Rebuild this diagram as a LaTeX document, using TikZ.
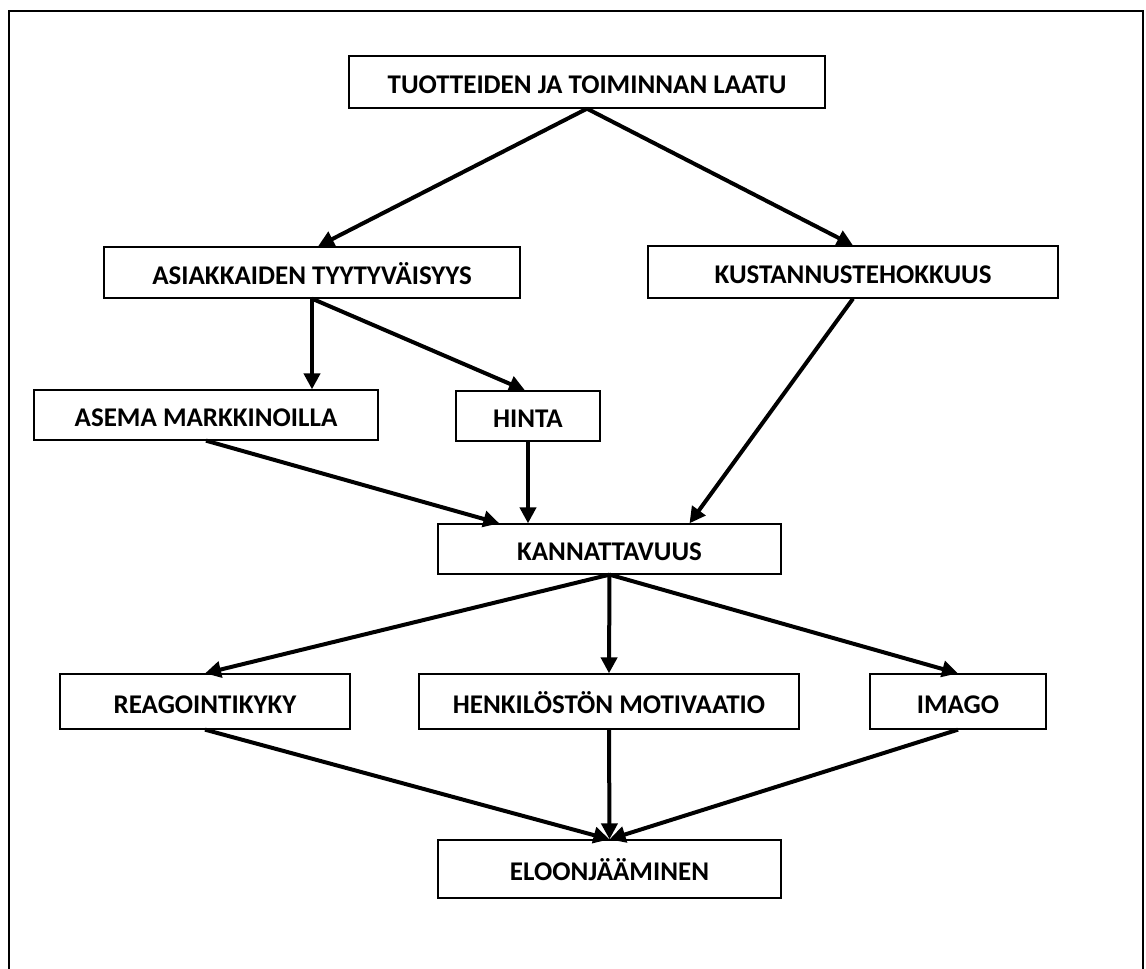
\documentclass[tikz,border=0pt]{standalone}
\usepackage{fontspec}
\setmainfont{Carlito}
\usetikzlibrary{arrows.meta}
\begin{document}
\begin{tikzpicture}[x=1pt,y=-1pt,
  box/.style={draw, line width=1.3pt, minimum height=#1, inner sep=0pt,
    text height=23.5pt, text depth=0pt,
    font=\fontsize{27}{31}\selectfont\bfseries},
  box/.default=51pt,
  link/.style={line width=4pt, -{Triangle[length=16pt,width=16pt]}}]
\useasboundingbox (0,0) rectangle (1146,969);
% outer frame (open at the bottom of the page)
\draw[line width=1.8pt] (9,969) -- (9,11) -- (1143,11) -- (1143,969);

\node[box=52pt, minimum width=476pt] (laatu) at (587,82) {TUOTTEIDEN JA TOIMINNAN LAATU};
\node[box, minimum width=416pt] (asiak) at (312,272.5) {ASIAKKAIDEN TYYTYVÄISYYS};
\node[box=52pt, minimum width=410pt] (kust) at (853,272) {KUSTANNUSTEHOKKUUS};
\node[box=50pt, minimum width=344pt] (asema) at (206,415) {ASEMA MARKKINOILLA};
\node[box=50pt, minimum width=144pt] (hinta) at (528,416) {HINTA};
\node[box=50pt, minimum width=343pt] (kann) at (609.5,549) {KANNATTAVUUS};
\node[box=55pt, minimum width=290pt] (reag) at (205,701.5) {REAGOINTIKYKY};
\node[box=55pt, minimum width=380pt] (henk) at (609,701.5) {HENKILÖSTÖN MOTIVAATIO};
\node[box=55pt, minimum width=176pt] (imago) at (958,701.5) {IMAGO};
\node[box=58pt, minimum width=343pt] (eloon) at (609.5,869) {ELOONJÄÄMINEN};

\draw[link] (laatu.south) -- ([xshift=6pt]asiak.north);
\draw[link] (laatu.south) -- (kust.north);
\draw[link] (asiak.south) -- (asiak.south |- asema.north);
\draw[link] (asiak.south) -- ([xshift=-3pt]hinta.north);
\draw[link] (asema.south) -- ([xshift=62pt]kann.north west);
\draw[link] (hinta.south) -- (hinta.south |- kann.north);
\draw[link] (kust.south) -- ([xshift=80pt]kann.north);
\draw[link] (kann.south) -- (reag.north);
\draw[link] (kann.south) -- (henk.north);
\draw[link] (kann.south) -- (imago.north);
\draw[link] (reag.south) -- (eloon.north);
\draw[link] (henk.south) -- (eloon.north);
\draw[link] (imago.south) -- (eloon.north);
\end{tikzpicture}
\end{document}
